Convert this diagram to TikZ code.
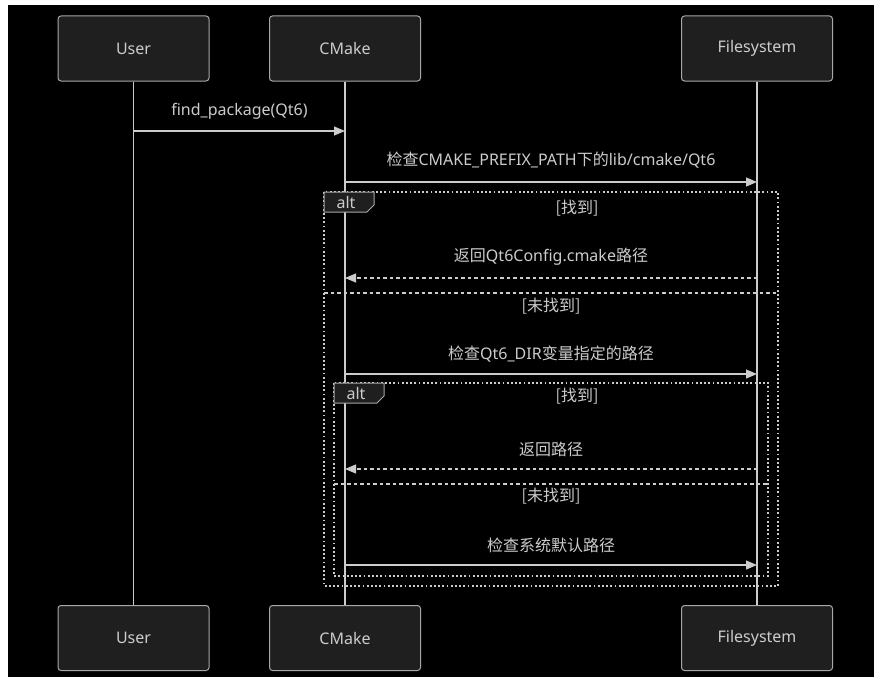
\documentclass[tikz,border=0pt]{standalone}
\usepackage{fontspec}
\setmainfont{Noto Sans}
\newfontfamily\cjk{Noto Sans CJK SC}
\usetikzlibrary{arrows.meta}
\definecolor{bg}{HTML}{000000}
\definecolor{boxfill}{HTML}{1F1F1F}
\definecolor{boxline}{HTML}{A8A8A8}
\definecolor{ink}{HTML}{CCCCCC}
\tikzset{
  actor/.style={draw=boxline, fill=boxfill, rounded corners=3pt, line width=1pt,
    minimum width=151pt, minimum height=65pt, inner sep=0pt, text=ink, font=\fontsize{16}{18}\selectfont},
  life/.style={draw=ink, line width=1.2pt},
  msg/.style={draw=ink, line width=1.2pt, -{Triangle[length=11pt,width=9pt]}},
  reply/.style={msg, dash pattern=on 3.5pt off 3pt},
  lbl/.style={text=ink, font=\fontsize{16}{18}\selectfont, inner sep=0pt, anchor=center},
  frame/.style={draw=ink, line width=1.6pt, dash pattern=on 1.8pt off 2.4pt},
  divider/.style={draw=ink, line width=1.6pt, dash pattern=on 3.5pt off 3pt},
  altbox/.style={draw=boxline, fill=boxfill, line width=1pt},
}
\begin{document}
\begin{tikzpicture}[x=1pt,y=-1pt]
\useasboundingbox (0,0) rectangle (874,677);
\fill[white] (0,0) rectangle (874,677);
\fill[bg] (8,5) rectangle (874,677);

% actors
\node[actor] (userT) at (133.5,48.5) {User};
\node[actor] (cmakeT) at (345,48.5) {CMake};
\node[actor] (fsT) at (757,48.5) {Filesystem};
\node[actor] (userB) at (133.5,638) {User};
\node[actor] (cmakeB) at (345,638) {CMake};
\node[actor] (fsB) at (757,638) {Filesystem};

% lifelines
\draw[life] (userT) -- (userB);
\draw[life] (cmakeT) -- (cmakeB);
\draw[life] (fsT) -- (fsB);

% message rows
\coordinate (m1) at (0,131);
\coordinate (m2) at (0,182);
\coordinate (m3) at (0,278);
\coordinate (m4) at (0,374);
\coordinate (m5) at (0,469);
\coordinate (m6) at (0,565);

% outer alt frame
\draw[frame] (324,192) rectangle (778,586);
\draw[divider] (324,293) -- (778,293);
\draw[altbox] (324,192) -- (374,192) -- (374,205) -- (367,212) -- (324,212) -- cycle;
\node[lbl] (alt1) at (346,202.5) {alt};
\node[lbl] (c1) at (577,208) {\cjk [找到]};
\node[lbl] (c2) at (551,306) {\cjk [未找到]};

% inner alt frame
\draw[frame] (334,383) rectangle (768,576);
\draw[divider] (334,484) -- (768,484);
\draw[altbox] (334,383) -- (384,383) -- (384,396) -- (377,403) -- (334,403) -- cycle;
\node[lbl] (alt2) at (356,393.5) {alt};
\node[lbl] (c3) at (577,396) {\cjk [找到]};
\node[lbl] (c4) at (551,496) {\cjk [未找到]};

% messages
\draw[msg] (userT |- m1) -- (cmakeT |- m1);
\node[lbl] (t1) at (239.5,111) {find\_package(Qt6)};

\draw[msg] (cmakeT |- m2) -- (fsT |- m2);
\node[lbl] (t2) at (551,160) {{\cjk 检查}CMAKE\_PREFIX\_PATH{\cjk 下的}lib/cmake/Qt6};

\draw[reply] (fsT |- m3) -- (cmakeT |- m3);
\node[lbl] (t3) at (551,257) {{\cjk 返回}Qt6Config.cmake{\cjk 路径}};

\draw[msg] (cmakeT |- m4) -- (fsT |- m4);
\node[lbl] (t4) at (551,354) {{\cjk 检查}Qt6\_DIR{\cjk 变量指定的路径}};

\draw[reply] (fsT |- m5) -- (cmakeT |- m5);
\node[lbl] (t5) at (551,449) {\cjk 返回路径};

\draw[msg] (cmakeT |- m6) -- (fsT |- m6);
\node[lbl] (t6) at (551,545) {\cjk 检查系统默认路径};
\end{tikzpicture}
\end{document}
